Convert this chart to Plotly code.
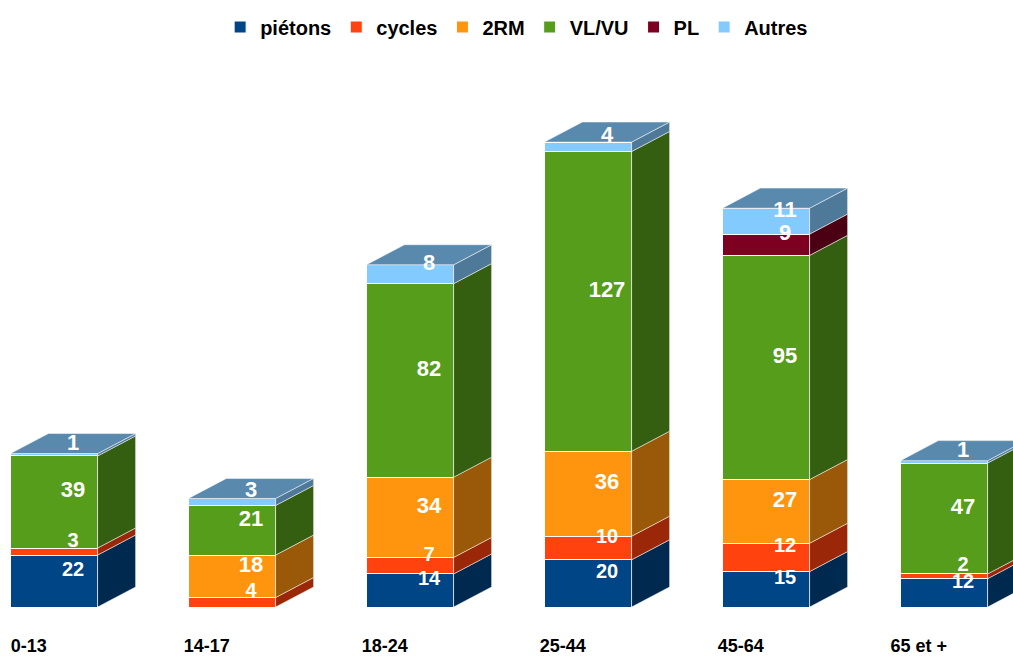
import plotly.graph_objects as go

# ---- data ----
categories = ["0-13", "14-17", "18-24", "25-44", "45-64", "65 et +"]
series_names = ["piétons", "cycles", "2RM", "VL/VU", "PL", "Autres"]
pietons = [22, 0, 14, 20, 15, 12]
cycles = [3, 4, 7, 10, 12, 2]
deux_rm = [0, 18, 34, 36, 27, 0]
vl_vu = [39, 21, 82, 127, 95, 47]
pl = [0, 0, 0, 0, 9, 0]
autres = [1, 3, 8, 4, 11, 1]
series_values = [pietons, cycles, deux_rm, vl_vu, pl, autres]

colors = ["#004586", "#ff420e", "#ff950e", "#579d1c", "#7e0021", "#83caff"]


def shade(hexc, f):
    h = hexc.lstrip("#")
    r, g, b = (int(h[i:i + 2], 16) for i in (0, 2, 4))
    return "rgb(%d,%d,%d)" % (int(r * f), int(g * f), int(b * f))


# geometry (axis units)
xs = list(range(len(categories)))
bar_w = 0.49
dx = 0.2135   # depth offset in x units
dy = 8.5      # depth offset in y units

fig = go.Figure()

# front faces
for name, vals, col in zip(series_names, series_values, colors):
    fig.add_trace(go.Bar(
        x=xs, y=vals, name=name, width=bar_w,
        marker=dict(color=col, line=dict(color="white", width=1)),
        hoverinfo="skip",
    ))

# compute bases
bases = []
cum = [0] * len(categories)
for vals in series_values:
    bases.append(list(cum))
    cum = [c + v for c, v in zip(cum, vals)]
totals = cum

# side faces
for k, (vals, col) in enumerate(zip(series_values, colors)):
    px, py = [], []
    for i, x in enumerate(xs):
        v = vals[i]
        if v <= 0:
            continue
        b = bases[k][i]
        t = b + v
        xr = x + bar_w / 2
        px += [xr, xr + dx, xr + dx, xr, xr, None]
        py += [b, b + dy, t + dy, t, b, None]
    if px:
        fig.add_trace(go.Scatter(
            x=px, y=py, mode="lines", fill="toself",
            fillcolor=shade(col, 0.6), line=dict(color="white", width=0.5),
            showlegend=False, hoverinfo="skip",
        ))

# top faces (top of each stack)
px, py = [], []
for i, x in enumerate(xs):
    t = totals[i]
    xl, xr = x - bar_w / 2, x + bar_w / 2
    px += [xl, xr, xr + dx, xl + dx, xl, None]
    py += [t, t, t + dy, t + dy, t, None]
fig.add_trace(go.Scatter(
    x=px, y=py, mode="lines", fill="toself",
    fillcolor=shade(colors[-1], 0.68), line=dict(color="white", width=0.5),
    showlegend=False, hoverinfo="skip",
))

# value labels
for k, vals in enumerate(series_values):
    lx, ly, lt = [], [], []
    for i, x in enumerate(xs):
        v = vals[i]
        if v <= 0:
            continue
        lx.append(x + dx / 2)
        ly.append(bases[k][i] + v / 2 + dy / 2)
        lt.append(str(v))
    fig.add_trace(go.Scatter(
        x=lx, y=ly, text=lt, mode="text",
        textfont=dict(color="white", size=22 if k >= 2 else 20,
                      family="Liberation Sans, Arial, sans-serif"),
        texttemplate="<b>%{text}</b>",
        showlegend=False, hoverinfo="skip",
    ))

W, H = 1013, 657
mt, mb = 60, 50
plot_h = H - mt - mb
px_per_unit = 2.36
x0 = -54 / 178
x1 = x0 + W / 178

fig.update_layout(
    width=W, height=H,
    barmode="stack",
    margin=dict(l=0, r=0, t=mt, b=mb, autoexpand=False),
    paper_bgcolor="white", plot_bgcolor="white",
    font=dict(family="Liberation Sans, Arial, sans-serif", color="black"),
    legend=dict(
        orientation="h", x=0.51, xanchor="center", y=1 + (mt - 27) / plot_h, yanchor="middle",
        font=dict(size=20, family="Liberation Sans, Arial, sans-serif", weight="bold"),
        itemclick=False, traceorder="normal",
    ),
    xaxis=dict(
        range=[x0, x1], tickvals=[x - dx / 2 - 0.035 for x in xs],
        ticktext=["<b>%s</b>" % c for c in categories],
        showgrid=False, zeroline=False, showline=False, ticks="",
        tickfont=dict(size=18), ticklabelstandoff=26, automargin=False,
    ),
    yaxis=dict(range=[0, plot_h / px_per_unit], visible=False, showgrid=False),
    showlegend=True,
)

fig.write_html("out.html", post_script="document.body.style.margin='0';",
               config={"displayModeBar": False})
